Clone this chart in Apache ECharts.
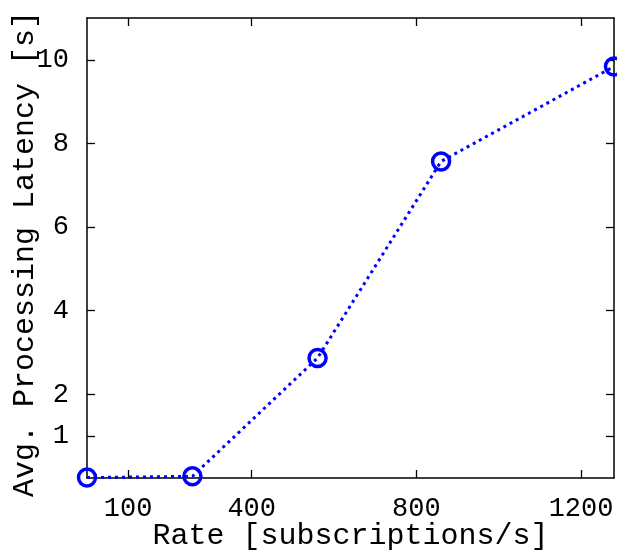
<!DOCTYPE html>
<html><head><meta charset="utf-8">
<script src="https://cdn.jsdelivr.net/npm/echarts@6/dist/echarts.min.js"></script>
<style>html,body{margin:0;padding:0;background:#fff}#c{width:617px;height:554px}</style>
</head><body><div id="c"></div>
<script>
const rates = [0, 256, 560, 860, 1280];
const latency = [0.01, 0.04, 2.87, 7.57, 9.84];
const xTicks = [100, 400, 800, 1200];
const yTicks = [1, 2, 4, 6, 8, 10];
const xName = 'Rate [subscriptions/s]';
const yName = 'Avg. Processing Latency [s]';

const font = 'Liberation Mono';
const lineCol = '#000';
function xa(pos, show) {
  return {
    type: 'value', position: pos, min: 0, max: 1280,
    name: show ? xName : '', nameLocation: 'middle', nameGap: 43, nameMoveOverlap: false,
    nameTextStyle: {fontFamily: font, fontSize: 30, color: '#000'},
    axisLine: {show: true, onZero: false, lineStyle: {color: lineCol, width: 1.5}},
    axisTick: {show: true, inside: true, length: 8, customValues: xTicks, lineStyle: {color: lineCol, width: 1.3}},
    axisLabel: {show: show, customValues: xTicks, margin: 17, fontFamily: font, fontSize: 27, color: '#000', formatter: v => String(v)},
    splitLine: {show: false}
  };
}
function ya(pos, show) {
  return {
    type: 'value', position: pos, min: 0, max: 11,
    name: show ? yName : '', nameLocation: 'middle', nameGap: 47, nameMoveOverlap: false,
    nameTextStyle: {fontFamily: font, fontSize: 30, color: '#000', padding: [0, 12, 0, 0]},
    axisLine: {show: true, onZero: false, lineStyle: {color: lineCol, width: 1.5}},
    axisTick: {show: true, inside: true, length: 8, customValues: yTicks, lineStyle: {color: lineCol, width: 1.3}},
    axisLabel: {show: show, customValues: yTicks, margin: 18, fontFamily: font, fontSize: 27, color: '#000', formatter: v => String(v)},
    splitLine: {show: false}
  };
}
const chart = echarts.init(document.getElementById('c'), null, {renderer: 'canvas'});
chart.setOption({
  animation: false,
  backgroundColor: '#fff',
  grid: {left: 87, right: 3, top: 18, bottom: 76, containLabel: false, outerBoundsMode: 'none'},
  xAxis: [xa('bottom', true), xa('top', false)],
  yAxis: [ya('left', true), ya('right', false)],
  series: [{
    type: 'line', xAxisIndex: 0, yAxisIndex: 0,
    data: rates.map((r, i) => [r, latency[i]]),
    clip: false,
    symbol: 'circle', symbolSize: 17,
    itemStyle: {color: 'rgba(0,0,0,0)', borderColor: '#0000ff', borderWidth: 3.5},
    lineStyle: {color: '#0000ff', width: 3, type: [3, 4]}
  }]
});
</script></body></html>
